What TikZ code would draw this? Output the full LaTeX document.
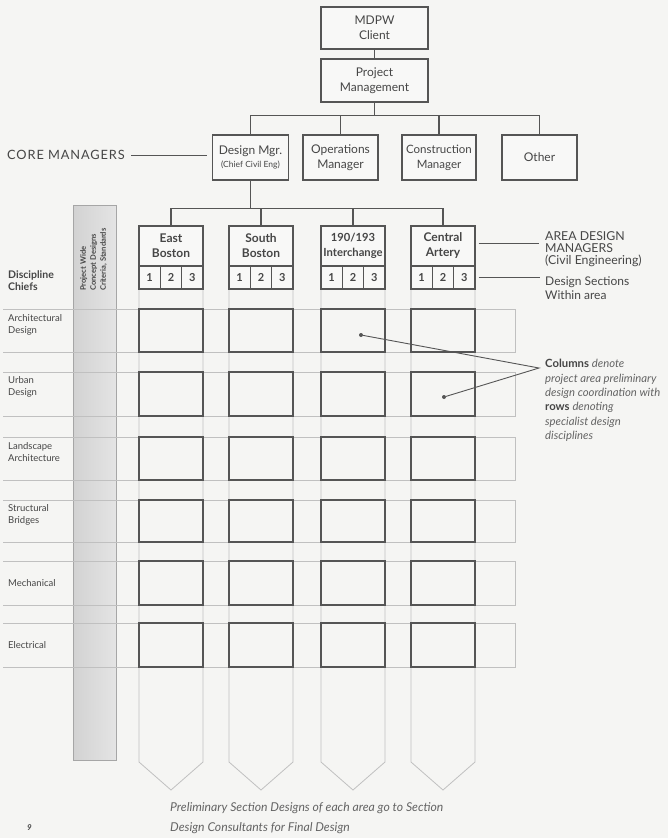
\documentclass[tikz,border=0pt]{standalone}
\usepackage{fontspec}
\setmainfont{Lato}
\definecolor{bg}{RGB}{245,245,243}
\definecolor{boxfill}{RGB}{248,248,247}
\definecolor{dk}{RGB}{85,85,85}
\definecolor{lt}{RGB}{192,192,192}
\definecolor{tx}{RGB}{70,70,70}
\definecolor{tl}{RGB}{100,100,100}
\definecolor{gcolL}{RGB}{210,210,210}
\definecolor{gcolR}{RGB}{228,228,228}
\begin{document}
\begin{tikzpicture}[x=1pt,y=-1pt,
  box/.style={draw=dk,line width=1.1pt,fill=boxfill,align=center,inner sep=0pt,text=tx,font=\fontsize{12}{15}\selectfont},
  area/.style={draw=dk,line width=1.1pt,fill=boxfill,align=center,inner sep=0pt,text=tx,minimum width=64pt,minimum height=40pt,font=\bfseries\fontsize{12}{15}\selectfont},
  num/.style={draw=dk,line width=1.1pt,fill=boxfill,inner sep=0pt,text=tx,minimum width=21.33pt,minimum height=23pt,font=\bfseries\fontsize{11}{12}\selectfont},
  cell/.style={draw=dk,line width=1.3pt,inner sep=0pt,minimum width=64pt},
  lite/.style={draw=lt,line width=0.8pt},
  conn/.style={draw=dk,line width=1.1pt},
  lab/.style={text=tx,align=left,inner sep=0pt,font=\fontsize{9.5}{12}\selectfont},
  note/.style={text=tx,align=left,inner sep=0pt},
  dotmark/.style={circle,fill=dk,inner sep=0pt,minimum size=4pt}
]
\fill[bg] (0,0) rectangle (668,838);
\useasboundingbox (0,0) rectangle (668,838);

% grey project-wide column
\path[left color=gcolL,right color=gcolR,draw=gray!70,line width=0.8pt] (73,205) rectangle (116,760);
\node[rotate=90,anchor=north west,align=left,inner sep=0pt,text=tx,font=\bfseries\fontsize{7.6}{10}\selectfont] (pw) at (80,291) {Project Wide\\Concept Designs\\Criteria, Standards};

% light column outlines with arrow tips
\foreach \cx in {171,261,353,443}{
  \draw[lite] (\cx-32,289) -- (\cx-32,762) -- (\cx,790) -- (\cx+32,762) -- (\cx+32,289);
}

% row bands
\foreach \t/\b in {309/352,372/416,437/480,500/542,561/605,623/667}{
  \draw[lite] (3,\t) -- (515,\t) -- (515,\b) -- (3,\b);
}

% cells
\foreach \cx [count=\c] in {171,261,353,443}{
  \foreach \t/\b [count=\r] in {309/352,372/416,437/480,500/542,561/605,623/667}{
    \node[cell,minimum height=\b-\t] (c\c r\r) at (\cx,{(\t+\b)/2}) {};
  }
}

% top hierarchy
\node[box,minimum width=107pt,minimum height=42pt] (mdpw) at (374.5,28) {MDPW\\Client};
\node[box,minimum width=107pt,minimum height=43pt] (pm) at (374.5,80.5) {Project\\Management};
\node[box,minimum width=76pt,minimum height=45pt] (dm) at (250.5,157.5) {Design Mgr.\\[-2pt]{\fontsize{8.5}{10}\selectfont (Chief Civil Eng)}};
\node[box,minimum width=75pt,minimum height=45pt] (ops) at (340.5,157.5) {Operations\\Manager};
\node[box,minimum width=74pt,minimum height=45pt,font=\fontsize{11.5}{15}\selectfont] (con) at (439,157.5) {Construction\\Manager};
\node[box,minimum width=75pt,minimum height=45pt] (oth) at (539.5,157.5) {Other};

\draw[conn] (mdpw) -- (pm);
\path (pm.south) ++(0,13) coordinate (b1);
\draw[conn] (pm.south) -- (b1);
\draw[conn] (dm.north) |- (b1) -| (oth.north);
\draw[conn] (ops.north) -- (ops.north |- b1);
\draw[conn] (con.north) -- (con.north |- b1);

\node[note,anchor=west,font=\addfontfeature{LetterSpace=7}\fontsize{12.8}{14}\selectfont] (core) at (7,155) {CORE MANAGERS};
\draw[conn,line width=0.9pt,shorten <=6pt,shorten >=5pt] (core.east) -- (core.east -| dm.west);

% area design managers
\node[area] (a1) at (171,246) {East\\Boston};
\node[area] (a2) at (261,246) {South\\Boston};
\node[area,font=\bfseries\fontsize{11.2}{15}\selectfont] (a3) at (353,246) {190/193\\Interchange};
\node[area] (a4) at (443,246) {Central\\Artery};
\foreach \cx [count=\c] in {171,261,353,443}{
  \node[num] (n\c1) at (\cx-21.33,277.5) {1};
  \node[num] (n\c2) at (\cx,277.5) {2};
  \node[num] (n\c3) at (\cx+21.33,277.5) {3};
}
\path (dm.south) ++(0,28) coordinate (b2);
\draw[conn] (dm.south) -- (b2);
\draw[conn] (a1.north) |- (b2) -| (a4.north);
\draw[conn] (a2.north) -- (a2.north |- b2);
\draw[conn] (a3.north) -- (a3.north |- b2);

% right notes
\node[note,anchor=north west,font=\fontsize{12.3}{12}\selectfont] (adm) at (545,231) {AREA DESIGN\\MANAGERS\\(Civil Engineering)};
\draw[conn,line width=0.9pt,shorten <=3pt,shorten >=6pt] ([yshift=3pt]a4.east) -- ([yshift=3pt]a4.east -| adm.west);
\node[note,anchor=north west,font=\fontsize{12}{14}\selectfont] (ds) at (545,276) {Design Sections\\Within area};
\draw[conn,line width=0.9pt,shorten <=3pt,shorten >=5pt] (n43.east) -- (n43.east -| ds.west);

\node[note,anchor=north west,text=tl,font=\fontsize{11.3}{14.4}\selectfont] (cn) at (545,359) {{\bfseries\upshape\color{tx}Columns} \itshape denote\\\itshape project area preliminary\\\itshape design coordination with\\{\bfseries\upshape\color{tx}rows} \itshape denoting\\\itshape specialist design\\\itshape disciplines};
\coordinate (conv) at (539,368);
\node[dotmark] (d1) at (361,335) {};
\node[dotmark] (d2) at (444,397) {};
\draw[draw=dk,line width=0.9pt] (d1) -- (conv) -- (d2);

% left labels
\node[lab,anchor=north west,font=\bfseries\fontsize{10.5}{12.5}\selectfont] (dc) at (8,270) {Discipline\\Chiefs};
\node[lab,anchor=north west] (l1) at (8,314) {Architectural\\Design};
\node[lab,anchor=north west] (l2) at (8,376) {Urban\\Design};
\node[lab,anchor=north west] (l3) at (8,442) {Landscape\\Architecture};
\node[lab,anchor=north west] (l4) at (8,504) {Structural\\Bridges};
\node[lab,anchor=west] (l5) at (8,583) {Mechanical};
\node[lab,anchor=west] (l6) at (8,645) {Electrical};

% bottom text
\node[note,anchor=base west,text=tl,font=\itshape\fontsize{12.2}{14}\selectfont] (bt1) at (170,811) {Preliminary Section Designs of each area go to Section};
\node[note,anchor=base west,text=tl,font=\itshape\fontsize{12.2}{14}\selectfont] (bt2) at (170,831) {Design Consultants for Final Design};
\node[note,anchor=base west,text=tx,font=\bfseries\itshape\fontsize{8}{9}\selectfont] (pg) at (27,830) {9};
\end{tikzpicture}
\end{document}
